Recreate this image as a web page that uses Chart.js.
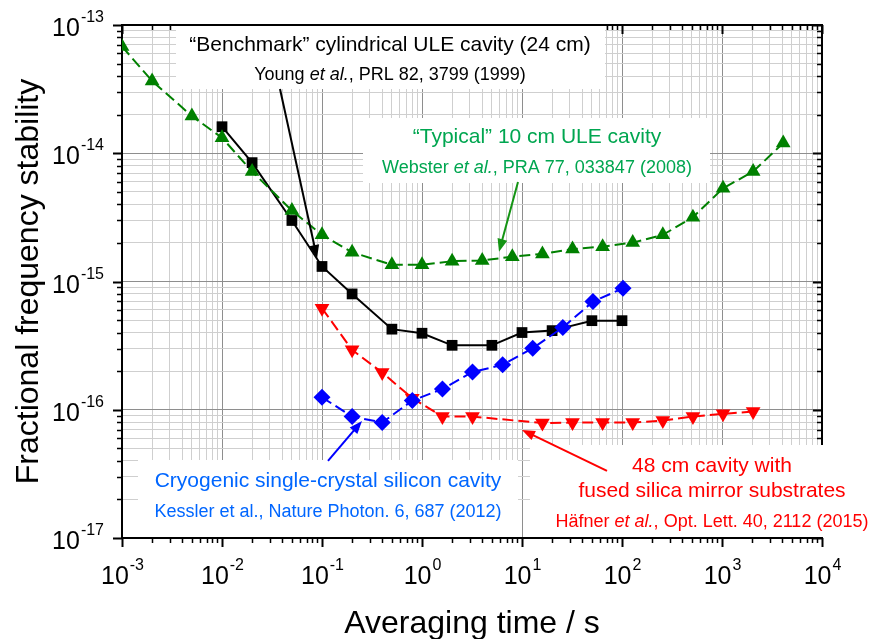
<!DOCTYPE html>
<html>
<head>
<meta charset="utf-8">
<script src="https://cdn.jsdelivr.net/npm/chart.js@4.4.1/dist/chart.umd.min.js"></script>
<style>
  body { margin: 0; background: #fff; }
  #wrap { width: 877px; height: 639px; }
</style>
</head>
<body>
<div id="wrap"><canvas id="stabilityChart"></canvas></div>
<script>
// Averaging time (s) and fractional frequency stability, one pair per cavity

// "Typical" 10 cm ULE cavity (Webster et al.)
const websterTau = [0.001, 0.002, 0.005, 0.01, 0.02, 0.05, 0.1, 0.2, 0.5, 1, 2, 4, 8, 16, 32, 64, 128, 256, 512, 1024, 2048, 4096];
const websterSigma = [6.8e-14, 3.66e-14, 1.95e-14, 1.32e-14, 7.2e-15, 3.57e-15, 2.31e-15, 1.69e-15, 1.35e-15, 1.35e-15, 1.44e-15, 1.46e-15, 1.56e-15, 1.64e-15, 1.79e-15, 1.87e-15, 2.01e-15, 2.31e-15, 3.17e-15, 5.33e-15, 7.2e-15, 1.2e-14];

// "Benchmark" cylindrical ULE cavity (Young et al.)
const youngTau = [0.01, 0.02, 0.05, 0.1, 0.2, 0.5, 1, 2, 5, 10, 20, 50, 100];
const youngSigma = [1.61e-14, 8.45e-15, 2.99e-15, 1.31e-15, 8.0e-16, 4.25e-16, 3.95e-16, 3.18e-16, 3.18e-16, 4.0e-16, 4.14e-16, 4.95e-16, 4.95e-16];

// 48 cm cavity (Häfner et al.)
const hafnerTau = [0.1, 0.2, 0.4, 0.8, 1.6, 3.2, 16, 32, 64, 128, 256, 512, 1024, 2048];
const hafnerSigma = [6.19e-16, 2.93e-16, 1.95e-16, 1.23e-16, 8.85e-17, 8.85e-17, 7.87e-17, 7.95e-17, 7.95e-17, 7.95e-17, 8.24e-17, 8.85e-17, 9.29e-17, 9.68e-17];

// Cryogenic silicon cavity (Kessler et al.)
const kesslerTau = [0.1, 0.2, 0.4, 0.8, 1.6, 3.2, 6.4, 12.8, 25.6, 51.2, 102.4];
const kesslerSigma = [1.25e-16, 8.85e-17, 7.95e-17, 1.18e-16, 1.45e-16, 1.97e-16, 2.24e-16, 3.02e-16, 4.38e-16, 6.97e-16, 8.85e-16];

// decade exponents used for tick labels
const xExponents = [-3, -2, -1, 0, 1, 2, 3, 4];
const yExponents = [-17, -16, -15, -14, -13];

const FONT = '"Liberation Sans", Arial, sans-serif';

/* -------------------- helpers -------------------- */

function toPoints(xs, ys) {
  return xs.map((x, i) => ({ x, y: ys[i] }));
}

function isDecade(v) {
  const l = Math.log10(v);
  return Math.abs(l - Math.round(l)) < 1e-6;
}

// 1..9 x 10^n ticks for every decade
function logTicks(exps) {
  const out = [];
  exps.forEach((e, i) => {
    const base = Math.pow(10, e);
    if (i === exps.length - 1) {
      out.push({ value: base });
      return;
    }
    for (let m = 1; m <= 9; m++) {
      out.push({ value: Number((m * base).toPrecision(4)) });
    }
  });
  return out;
}

function gridColor(c) {
  if (!c.tick) return '#cfcfcf';
  return isDecade(c.tick.value) ? '#8e8e8e' : '#cfcfcf';
}

// draw "10" with superscript exponent
function drawPower(ctx, exp, x, baseline, align) {
  const base = '10';
  const sup = String(exp);
  ctx.font = '25px ' + FONT;
  const wb = ctx.measureText(base).width;
  ctx.font = '16px ' + FONT;
  const ws = ctx.measureText(sup).width;
  const left = align === 'center' ? x - (wb + ws) / 2 : x - wb - ws;
  ctx.textAlign = 'left';
  ctx.textBaseline = 'alphabetic';
  ctx.font = '25px ' + FONT;
  ctx.fillText(base, left, baseline);
  ctx.font = '16px ' + FONT;
  ctx.fillText(sup, left + wb + 1, baseline - 14);
}

// centered line made of [text, italic] parts
function drawRich(ctx, parts, cx, baseline, size, color) {
  let total = 0;
  const widths = parts.map(([t, it]) => {
    ctx.font = (it ? 'italic ' : '') + size + 'px ' + FONT;
    const w = ctx.measureText(t).width;
    total += w;
    return w;
  });
  let x = cx - total / 2;
  ctx.fillStyle = color;
  ctx.textAlign = 'left';
  ctx.textBaseline = 'alphabetic';
  parts.forEach(([t, it], i) => {
    ctx.font = (it ? 'italic ' : '') + size + 'px ' + FONT;
    ctx.fillText(t, x, baseline);
    x += widths[i];
  });
}

/* -------------------- annotations -------------------- */

const labelBoxes = [
  {
    box: [176, 26, 605, 89], cx: 390,
    lines: [
      { size: 21, y: 51, color: '#000000', parts: [['“Benchmark” cylindrical ULE cavity (24 cm)', false]] },
      { size: 18, y: 80, color: '#000000', parts: [['Young ', false], ['et al.', true], [', PRL 82, 3799 (1999)', false]] }
    ]
  },
  {
    box: [363, 118, 710, 183], cx: 537,
    lines: [
      { size: 21, y: 143, color: '#00a650', parts: [['“Typical” 10 cm ULE cavity', false]] },
      { size: 18, y: 173, color: '#00a650', parts: [['Webster ', false], ['et al.', true], [', PRA 77, 033847 (2008)', false]] }
    ]
  },
  {
    box: [138, 460, 518, 537], cx: 328,
    lines: [
      { size: 21, y: 487, color: '#0066ff', parts: [['Cryogenic single-crystal silicon cavity', false]] },
      { size: 18, y: 517, color: '#0066ff', parts: [['Kessler et al., Nature Photon. 6, 687 (2012)', false]] }
    ]
  },
  {
    box: [530, 445, 877, 537], cx: 712,
    lines: [
      { size: 21, y: 472, color: '#ff0000', parts: [['48 cm cavity with', false]] },
      { size: 21, y: 497, color: '#ff0000', parts: [['fused silica mirror substrates', false]] },
      { size: 18, y: 527, color: '#ff0000', parts: [['Häfner ', false], ['et al.', true], [', Opt. Lett. 40, 2112 (2015)', false]] }
    ]
  }
];

// arrows in log10 data space: [tailX, tailY, tipX, tipY]
const arrows = [
  { color: '#000000', pts: [-1.42, -13.499, -1.05, -14.816] },
  { color: '#149414', pts: [0.96, -14.224, 0.77, -14.769] },
  { color: '#0000ff', pts: [-0.94, -16.398, -0.6, -16.087] },
  { color: '#ff0000', pts: [1.85, -16.476, 1.0, -16.157] }
];

const decorPlugin = {
  id: 'decor',
  beforeDatasetsDraw(chart) {
    const { ctx, chartArea: a, scales } = chart;
    const xs = scales.x, ys = scales.y;
    ctx.save();

    // tick marks: outward on left/bottom, inward on top/right
    ctx.strokeStyle = '#000';
    xs.ticks.forEach(t => {
      const px = Math.round(xs.getPixelForValue(t.value)) + 0.5;
      const major = isDecade(t.value);
      ctx.lineWidth = major ? 2 : 1.5;
      const len = major ? 9 : 5;
      ctx.beginPath();
      ctx.moveTo(px, a.bottom); ctx.lineTo(px, a.bottom + len);
      ctx.moveTo(px, a.top); ctx.lineTo(px, a.top + len);
      ctx.stroke();
    });
    ys.ticks.forEach(t => {
      const py = Math.round(ys.getPixelForValue(t.value)) + 0.5;
      const major = isDecade(t.value);
      ctx.lineWidth = major ? 2 : 1.5;
      const len = major ? 9 : 5;
      ctx.beginPath();
      ctx.moveTo(a.left, py); ctx.lineTo(a.left - len, py);
      ctx.moveTo(a.right, py); ctx.lineTo(a.right - len, py);
      ctx.stroke();
    });

    // frame
    ctx.lineWidth = 2;
    ctx.strokeRect(a.left, a.top, a.right - a.left, a.bottom - a.top);

    // tick labels
    ctx.fillStyle = '#000';
    xExponents.forEach(e => {
      drawPower(ctx, e, xs.getPixelForValue(Math.pow(10, e)), a.bottom + 46, 'center');
    });
    yExponents.forEach(e => {
      const py = ys.getPixelForValue(Math.pow(10, e));
      drawPower(ctx, e, a.left - 19, py + 11, 'right');
    });

    // axis titles
    ctx.font = '32px ' + FONT;
    ctx.textAlign = 'center';
    ctx.textBaseline = 'alphabetic';
    ctx.fillText('Averaging time / s', (a.left + a.right) / 2, a.bottom + 95);
    ctx.save();
    ctx.translate(38, (a.top + a.bottom) / 2);
    ctx.rotate(-Math.PI / 2);
    ctx.fillText('Fractional frequency stability', 0, 0);
    ctx.restore();

    // white label boxes over the grid
    labelBoxes.forEach(b => {
      const [x0, y0, x1, y1] = b.box;
      ctx.fillStyle = '#fff';
      ctx.fillRect(x0, y0, x1 - x0, y1 - y0);
      b.lines.forEach(l => drawRich(ctx, l.parts, b.cx, l.y, l.size, l.color));
    });
    ctx.restore();
  },
  afterDatasetsDraw(chart) {
    const { ctx, scales } = chart;
    ctx.save();
    arrows.forEach(ar => {
      const [tx, ty, hx, hy] = ar.pts;
      const x0 = scales.x.getPixelForValue(Math.pow(10, tx));
      const y0 = scales.y.getPixelForValue(Math.pow(10, ty));
      const x1 = scales.x.getPixelForValue(Math.pow(10, hx));
      const y1 = scales.y.getPixelForValue(Math.pow(10, hy));
      const ang = Math.atan2(y1 - y0, x1 - x0);
      const headLen = 13, headW = 5;
      ctx.strokeStyle = ar.color;
      ctx.fillStyle = ar.color;
      ctx.lineWidth = 2;
      ctx.beginPath();
      ctx.moveTo(x0, y0);
      ctx.lineTo(x1 - Math.cos(ang) * headLen * 0.8, y1 - Math.sin(ang) * headLen * 0.8);
      ctx.stroke();
      ctx.beginPath();
      ctx.moveTo(x1, y1);
      ctx.lineTo(x1 - Math.cos(ang) * headLen + Math.sin(ang) * headW, y1 - Math.sin(ang) * headLen - Math.cos(ang) * headW);
      ctx.lineTo(x1 - Math.cos(ang) * headLen - Math.sin(ang) * headW, y1 - Math.sin(ang) * headLen + Math.cos(ang) * headW);
      ctx.closePath();
      ctx.fill();
    });
    ctx.restore();
  }
};

/* -------------------- chart -------------------- */

function series(label, xs, ys, color, style, opts) {
  return Object.assign({
    label,
    data: toPoints(xs, ys),
    borderColor: color,
    backgroundColor: color,
    pointBackgroundColor: color,
    pointBorderColor: color,
    pointBorderWidth: 0,
    pointStyle: style,
    pointRadius: 8,
    borderWidth: 2,
    tension: 0,
    fill: false
  }, opts || {});
}

const ctx = document.getElementById('stabilityChart').getContext('2d');

new Chart(ctx, {
  type: 'line',
  data: {
    datasets: [
      series('Webster et al.', websterTau, websterSigma, '#008000', 'triangle', { borderDash: [11, 5], pointRadius: 8.5 }),
      series('Kessler et al.', kesslerTau, kesslerSigma, '#0000ff', 'rectRot', { borderDash: [11, 5], pointRadius: 8.5 }),
      series('Häfner et al.', hafnerTau, hafnerSigma, '#ff0000', 'triangle', { borderDash: [11, 5], pointRotation: 180, pointRadius: 8.5 }),
      series('Young et al.', youngTau, youngSigma, '#000000', 'rect', { pointRadius: 7.6 })
    ]
  },
  options: {
    responsive: true,
    maintainAspectRatio: false,
    animation: false,
    layout: { padding: { top: 25, right: 55, left: 0, bottom: 0 } },
    plugins: {
      legend: { display: false },
      tooltip: { enabled: false }
    },
    scales: {
      x: {
        type: 'logarithmic',
        min: 1e-3,
        max: 1e4,
        afterBuildTicks: s => { s.ticks = logTicks(xExponents); },
        afterFit: s => { s.height = 101; },
        ticks: { display: false },
        grid: { drawTicks: false, color: gridColor, lineWidth: 1 },
        border: { display: false }
      },
      y: {
        type: 'logarithmic',
        min: 1e-17,
        max: 1e-13,
        afterBuildTicks: s => { s.ticks = logTicks(yExponents); },
        afterFit: s => { s.width = 122; },
        ticks: { display: false },
        grid: { drawTicks: false, color: gridColor, lineWidth: 1 },
        border: { display: false }
      }
    }
  },
  plugins: [decorPlugin]
});
</script>
</body>
</html>
